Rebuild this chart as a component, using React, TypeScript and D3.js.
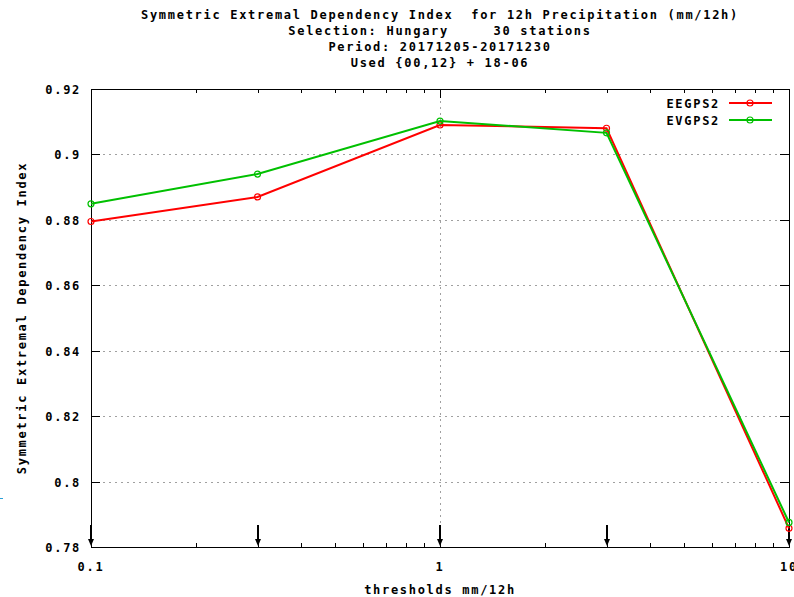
import { useEffect, useRef } from 'react';
import * as d3 from 'd3';

const thresholds = [0.1, 0.3, 1, 3, 10];
const seriesNames = ['EEGPS2', 'EVGPS2'];
const eegps2 = [0.8795, 0.887, 0.909, 0.908, 0.7857];
const evgps2 = [0.8849, 0.894, 0.9102, 0.9066, 0.7875];
const seriesColors = ['#ff0000', '#00c000'];
const yTicks = [0.78, 0.8, 0.82, 0.84, 0.86, 0.88, 0.9, 0.92];
const xTickLabels = ['0.1', '1', '10'];
const titleLines = [
  'Symmetric Extremal Dependency Index  for 12h Precipitation (mm/12h)',
  'Selection: Hungary     30 stations',
  'Period: 20171205-20171230',
  'Used {00,12} + 18-06',
];

const FONT = '"DejaVu Sans Mono", monospace';

export default function App() {
  const svgRef = useRef<SVGSVGElement>(null);

  useEffect(() => {
    if (!svgRef.current) return;
    const width = 794;
    const height = 597;
    const m = { left: 91, right: 789, top: 89, bottom: 547 };

    const svg = d3.select(svgRef.current);
    svg.selectAll('*').remove();
    svg.attr('width', width).attr('height', height);

    const x = d3.scaleLog().domain([0.1, 10]).range([m.left, m.right]);
    const y = d3.scaleLinear().domain([0.78, 0.92]).range([m.bottom, m.top]);

    const txt = (s: d3.Selection<any, any, any, any>) =>
      s.style('font-family', FONT).style('font-weight', 'bold').style('font-size', '12px').style('letter-spacing', '1.7px');

    // titles
    titleLines.forEach((t, i) => {
      svg.append('text').call(txt).attr('x', 440).attr('y', 19 + i * 16)
        .attr('text-anchor', 'middle').attr('xml:space', 'preserve').text(t);
    });

    // grid
    const grid = svg.append('g').attr('stroke', '#a0a0a0').attr('stroke-dasharray', '2,4').attr('stroke-width', 1);
    yTicks.slice(1, -1).forEach((v) => {
      grid.append('line').attr('x1', m.left).attr('x2', m.right).attr('y1', Math.round(y(v)) + 0.5).attr('y2', Math.round(y(v)) + 0.5);
    });
    grid.append('line').attr('x1', Math.round(x(1)) + 0.5).attr('x2', Math.round(x(1)) + 0.5).attr('y1', m.top).attr('y2', m.bottom);

    // frame
    const ax = svg.append('g').attr('stroke', '#000').attr('stroke-width', 1).attr('shape-rendering', 'crispEdges');
    ax.append('rect').attr('x', m.left).attr('y', m.top).attr('width', m.right - m.left).attr('height', m.bottom - m.top).attr('fill', 'none');

    yTicks.forEach((v) => {
      const yy = Math.round(y(v));
      ax.append('line').attr('x1', m.left).attr('x2', m.left + 9).attr('y1', yy).attr('y2', yy);
      ax.append('line').attr('x1', m.right - 9).attr('x2', m.right).attr('y1', yy).attr('y2', yy);
      svg.append('text').call(txt).attr('x', 81).attr('y', yy + 5).attr('text-anchor', 'end').text(String(v));
    });

    // x ticks (log)
    const majors = [0.1, 1, 10];
    majors.forEach((v) => {
      const xx = Math.round(x(v));
      ax.append('line').attr('x1', xx).attr('x2', xx).attr('y1', m.bottom).attr('y2', m.bottom - 9);
      ax.append('line').attr('x1', xx).attr('x2', xx).attr('y1', m.top).attr('y2', m.top + 9);
    });
    [0.1, 1].forEach((d) => {
      for (let k = 2; k <= 9; k++) {
        const xx = Math.round(x(d * k));
        ax.append('line').attr('x1', xx).attr('x2', xx).attr('y1', m.bottom).attr('y2', m.bottom - 4);
        ax.append('line').attr('x1', xx).attr('x2', xx).attr('y1', m.top).attr('y2', m.top + 4);
      }
    });
    xTickLabels.forEach((l) => {
      svg.append('text').call(txt).attr('x', x(+l)).attr('y', 571).attr('text-anchor', 'middle').text(l);
    });

    // arrows at thresholds
    thresholds.forEach((t) => {
      const xx = Math.round(x(t));
      svg.append('line').attr('x1', xx).attr('x2', xx).attr('y1', 525).attr('y2', 541)
        .attr('stroke', '#000').attr('stroke-width', 2);
      svg.append('path').attr('d', `M${xx - 3},539 L${xx + 3},539 L${xx},546 Z`).attr('fill', '#000');
    });

    // axis titles
    svg.append('text').call(txt).attr('x', 440).attr('y', 594).attr('text-anchor', 'middle').text('thresholds mm/12h');
    svg.append('text').call(txt).attr('transform', 'translate(26,318) rotate(-90)').attr('text-anchor', 'middle')
      .text('Symmetric Extremal Dependency Index');

    // series
    const line = d3.line<number>().x((_, i) => x(thresholds[i])).y((d) => y(d));
    [eegps2, evgps2].forEach((vals, si) => {
      const g = svg.append('g');
      g.append('path').attr('d', line(vals)).attr('fill', 'none').attr('stroke', seriesColors[si]).attr('stroke-width', 2);
      vals.forEach((v, i) => {
        g.append('circle').attr('cx', x(thresholds[i])).attr('cy', y(v)).attr('r', 3)
          .attr('fill', 'none').attr('stroke', seriesColors[si]).attr('stroke-width', 1.2);
      });
    });

    // legend
    seriesNames.forEach((n, i) => {
      const yy = 103 + i * 17;
      svg.append('text').call(txt).attr('x', 720).attr('y', yy + 5).attr('text-anchor', 'end').text(n);
      svg.append('line').attr('x1', 729).attr('x2', 772).attr('y1', yy).attr('y2', yy)
        .attr('stroke', seriesColors[i]).attr('stroke-width', 2);
      svg.append('circle').attr('cx', 750).attr('cy', yy).attr('r', 3)
        .attr('fill', 'none').attr('stroke', seriesColors[i]).attr('stroke-width', 1.2);
    });

    // small stray mark at the left edge
    svg.append('line').attr('x1', 0).attr('x2', 3).attr('y1', 498.5).attr('y2', 498.5).attr('stroke', '#2aa0d8').attr('stroke-width', 1);
  }, []);

  return (
    <div style={{ position: 'absolute', left: 0, top: 0, background: '#fff' }}>
      <svg ref={svgRef} style={{ display: 'block' }} />
    </div>
  );
}
